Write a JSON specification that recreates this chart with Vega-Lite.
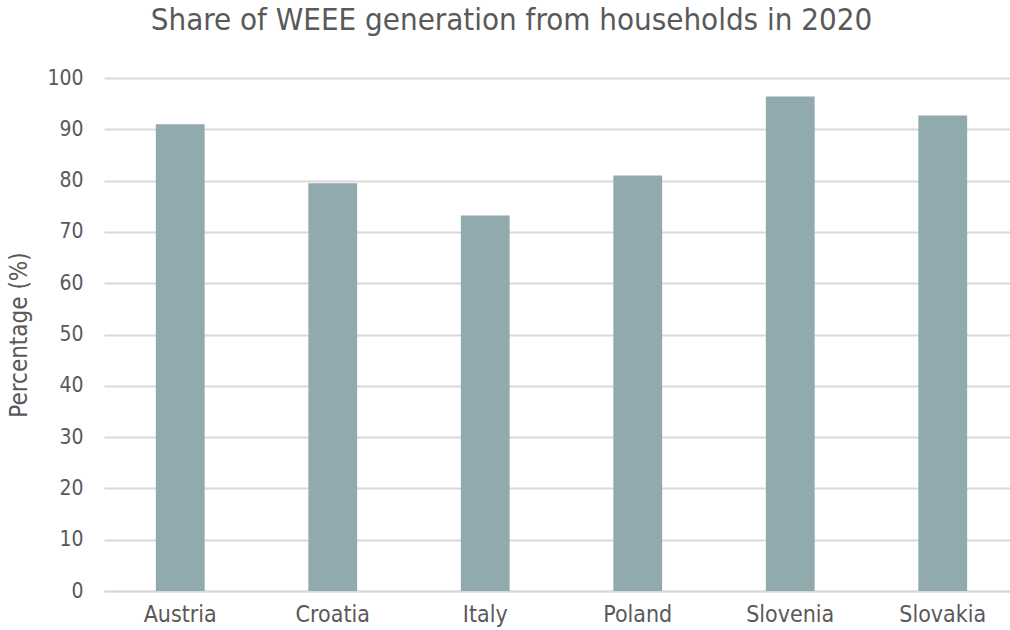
{
  "$schema": "https://vega.github.io/schema/vega-lite/v6.json",
  "width": 915,
  "height": 513,
  "autosize": {"type": "none"},
  "padding": {"left": 104, "top": 78, "right": -9, "bottom": 39},
  "background": "white",
  "title": {
    "text": "Share of WEEE generation from households in 2020",
    "font": "'DejaVu Sans Condensed', 'Open Sans'",
    "fontSize": 31,
    "fontWeight": "normal",
    "color": "#595959",
    "anchor": "middle",
    "frame": "group",
    "dx": -50,
    "offset": 30
  },
  "data": {
    "values": [
      {"country": "Austria", "value": 91.0},
      {"country": "Croatia", "value": 79.5},
      {"country": "Italy", "value": 73.2},
      {"country": "Poland", "value": 81.0},
      {"country": "Slovenia", "value": 96.4},
      {"country": "Slovakia", "value": 92.7}
    ]
  },
  "mark": {"type": "bar", "color": "#90AAAE"},
  "encoding": {
    "x": {
      "field": "country",
      "type": "nominal",
      "sort": null,
      "scale": {"paddingInner": 0.68, "paddingOuter": 0.34},
      "axis": {
        "title": null,
        "labelAngle": 0,
        "labelFont": "'DejaVu Sans Condensed', 'Open Sans'",
        "labelFontSize": 23,
        "labelColor": "#595959",
        "labelPadding": 12,
        "ticks": false,
        "domainColor": "#d9d9d9",
        "domainWidth": 2
      }
    },
    "y": {
      "field": "value",
      "type": "quantitative",
      "scale": {"domain": [0, 100], "nice": false},
      "axis": {
        "title": "Percentage (%)",
        "titleFont": "'DejaVu Sans Condensed', 'Open Sans'",
        "titleFontSize": 24,
        "titleFontWeight": "normal",
        "titleColor": "#595959",
        "titlePadding": 15,
        "values": [0, 10, 20, 30, 40, 50, 60, 70, 80, 90, 100],
        "labelFont": "'DejaVu Sans Condensed', 'Open Sans'",
        "labelFontSize": 21,
        "labelColor": "#595959",
        "labelPadding": 21,
        "ticks": false,
        "domain": false,
        "gridColor": "#d9d9d9",
        "gridWidth": 2
      }
    }
  },
  "config": {"view": {"stroke": null}}
}
